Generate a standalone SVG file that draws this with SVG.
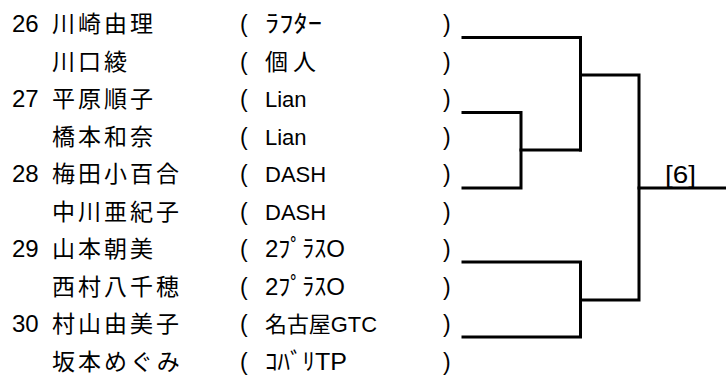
<svg xmlns="http://www.w3.org/2000/svg" width="726" height="376" viewBox="0 0 726 376">
<style>
text{font-family:"Liberation Sans","Noto Sans CJK JP",sans-serif;font-size:22px;fill:#000}
.no{font-size:24px}
.nm{font-size:23px;letter-spacing:3px}
.cl{font-size:22px}
.kt{font-size:24px}
.pr{font-size:23px}
.ln{fill:none;stroke:#000;stroke-width:3;stroke-linecap:square}
</style>
<rect width="726" height="376" fill="#fff"/>
<g id="p1"><text class="no" x="12" y="32">26</text><text class="nm" x="52" y="32">川崎由理</text><text class="pr" x="240" y="32">(</text><text class="kt" x="265" y="32" textLength="57" lengthAdjust="spacingAndGlyphs">ﾗﾌﾀｰ</text><text class="pr" x="443" y="32">)</text></g>
<g id="p2"><text class="nm" x="52" y="69.5">川口綾</text><text class="pr" x="240" y="69.5">(</text><text class="nm" x="265" y="69.5" style="letter-spacing:5px">個人</text><text class="pr" x="443" y="69.5">)</text></g>
<g id="p3"><text class="no" x="12" y="107">27</text><text class="nm" x="52" y="107">平原順子</text><text class="pr" x="240" y="107">(</text><text class="cl" x="265" y="107">Lian</text><text class="pr" x="443" y="107">)</text></g>
<g id="p4"><text class="nm" x="52" y="144.5">橋本和奈</text><text class="pr" x="240" y="144.5">(</text><text class="cl" x="265" y="144.5">Lian</text><text class="pr" x="443" y="144.5">)</text></g>
<g id="p5"><text class="no" x="12" y="182">28</text><text class="nm" x="52" y="182">梅田小百合</text><text class="pr" x="240" y="182">(</text><text class="cl" x="265" y="182">DASH</text><text class="pr" x="443" y="182">)</text></g>
<g id="p6"><text class="nm" x="52" y="219.5">中川亜紀子</text><text class="pr" x="240" y="219.5">(</text><text class="cl" x="265" y="219.5">DASH</text><text class="pr" x="443" y="219.5">)</text></g>
<g id="p7"><text class="no" x="12" y="257">29</text><text class="nm" x="52" y="257">山本朝美</text><text class="pr" x="240" y="257">(</text><text class="kt" x="265" y="257" textLength="80" lengthAdjust="spacingAndGlyphs">2ﾌﾟﾗｽO</text><text class="pr" x="443" y="257">)</text></g>
<g id="p8"><text class="nm" x="52" y="294.5">西村八千穂</text><text class="pr" x="240" y="294.5">(</text><text class="kt" x="265" y="294.5" textLength="80" lengthAdjust="spacingAndGlyphs">2ﾌﾟﾗｽO</text><text class="pr" x="443" y="294.5">)</text></g>
<g id="p9"><text class="no" x="12" y="332">30</text><text class="nm" x="52" y="332">村山由美子</text><text class="pr" x="240" y="332">(</text><text class="cl" x="265" y="332" textLength="112" lengthAdjust="spacingAndGlyphs">名古屋GTC</text><text class="pr" x="443" y="332">)</text></g>
<g id="p10"><text class="nm" x="52" y="369.5">坂本めぐみ</text><text class="pr" x="240" y="369.5">(</text><text class="kt" x="265" y="369.5" textLength="82" lengthAdjust="spacingAndGlyphs">ｺﾊﾞﾘTP</text><text class="pr" x="443" y="369.5">)</text></g>
<g id="connectors">
<path class="ln" d="M463 37.5H580.5V150"/>
<path class="ln" d="M463 112.5H521V188H463"/>
<path class="ln" d="M521 150H580.5"/>
<path class="ln" d="M463 262H580.5V337H463"/>
<path class="ln" d="M580.5 75H639V300H580.5"/>
<path class="ln" d="M639 188H726"/>
</g>
<g id="result"><text x="665" y="183" style="font-size:23px" textLength="31" lengthAdjust="spacingAndGlyphs">[6]</text></g>
</svg>
